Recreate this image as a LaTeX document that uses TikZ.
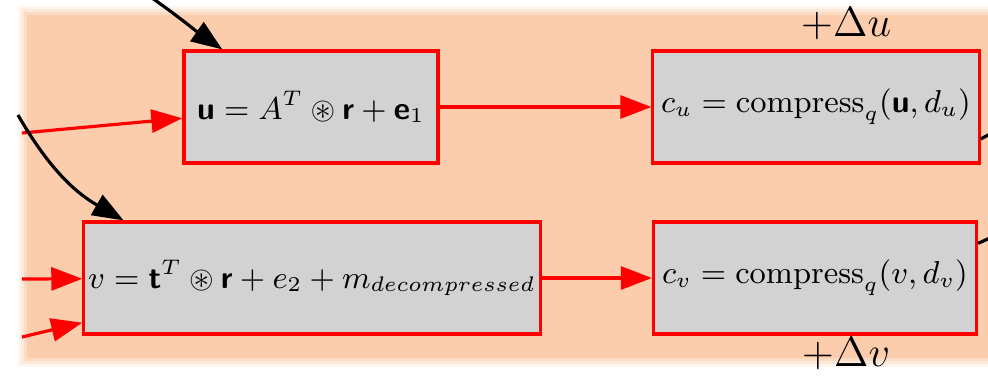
\documentclass[tikz,border=0pt]{standalone}
\usepackage{amsmath}
\usepackage{amssymb}
\usepackage{xcolor}
\usetikzlibrary{arrows.meta, positioning}
\definecolor{peach}{RGB}{251,205,172}
\definecolor{boxgray}{RGB}{210,210,210}
\newcommand{\bv}[1]{\text{\sffamily\bfseries #1}}

\begin{document}
\begin{tikzpicture}[x=0.01cm, y=-0.01cm,
    main/.style = {draw=red, fill=boxgray, line width=0.9pt, minimum height=1.12cm, inner sep=0pt, font=\small},
    redarr/.style = {red, line width=0.9pt, -{Triangle[length=0.31cm,width=0.23cm]}},
    blkarr/.style = {black, line width=0.9pt, -{Triangle[length=0.31cm,width=0.23cm]}}]
      \useasboundingbox (0,0) rectangle (988,378);
      % soft background
      \foreach \d/\o in {9/0.2, 6/0.3, 3/0.5, 0/1}
        \fill[peach, opacity=\o] (27-\d,15-\d) rectangle (995,358+\d);

      \node[main, minimum width=2.54cm] (u) at (311,107)  {$\bv{u} = A^T \circledast \bv{r} + \bv{e}_1$};
      \node[main, minimum width=3.26cm] (cu) at (816,107) {$c_u = \mathrm{compress}_q(\bv{u},d_u)$};
      \node[main, minimum width=4.56cm] (v) at (312,278)  {$v = \bv{t}^T \circledast \bv{r} + e_2 + m_{decompressed}$};
      \node[main, minimum width=3.23cm] (cv) at (815,278) {$c_v = \mathrm{compress}_q(v,d_v)$};
      \node (du) at (846,24)  {\large$+\Delta u$};
      \node (dv) at (846,354) {\large$+\Delta v$};

      \coordinate (in1) at (152,-2);
      \coordinate (in2) at (18,115);
      \coordinate (in3) at (22,133);
      \coordinate (in4) at (22,279);
      \coordinate (in5) at (22,337);
      \coordinate (out1) at (992,133);
      \coordinate (out2) at (992,237);

      \path
      (u)   edge[redarr] (cu)
      (v)   edge[redarr] (cv)
      (in3) edge[redarr] (u.185)
      (in4) edge[redarr] (v)
      (in5) edge[redarr] (v.191)
      (in1) edge[blkarr, out=-35, in=145] (u.147)
      (in2) edge[blkarr, out=-60, in=150] (v.163);

      \path[line width=0.9pt]
      (cu.-11) edge (out1)
      (cv.12)  edge (out2);
\end{tikzpicture}
\end{document}
